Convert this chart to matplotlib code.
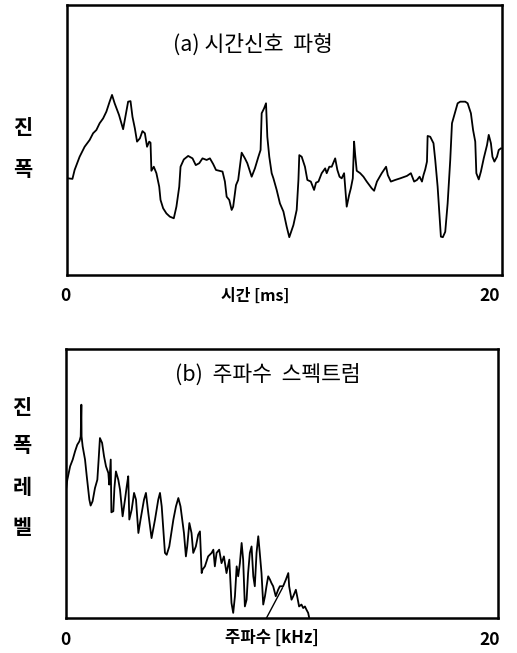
#!/usr/bin/env python3

import matplotlib
matplotlib.use("Agg")
import matplotlib.pyplot as plt

plt.rcParams['font.family'] = ['Noto Sans CJK KR', 'DejaVu Sans']

################################################################################
# Data
################################################################################

# (a) time-domain signal: time [ms] and amplitude (arbitrary units, 0..100)
time_ms = [0.05, 0.25, 0.35, 0.58, 0.81, 1.04, 1.20, 1.35, 1.50, 1.66, 1.81, 1.96,
           2.07, 2.19, 2.39, 2.58, 2.70, 2.81, 2.92, 3.01, 3.12, 3.22, 3.35, 3.47,
           3.58, 3.68, 3.78, 3.84, 3.88, 3.99, 4.11, 4.24, 4.30, 4.42, 4.57, 4.73,
           4.91, 5.03, 5.16, 5.22, 5.37, 5.57, 5.77, 5.92, 6.08, 6.23, 6.42, 6.57,
           6.72, 6.85, 7.00, 7.15, 7.26, 7.34, 7.46, 7.57, 7.64, 7.77, 7.87, 8.03,
           8.18, 8.29, 8.49, 8.64, 8.80, 8.90, 8.95, 9.06, 9.15, 9.21, 9.30, 9.41,
           9.49, 9.64, 9.79, 9.95, 10.10, 10.22, 10.41, 10.56, 10.64, 10.68, 10.79,
           10.94, 11.05, 11.21, 11.36, 11.45, 11.56, 11.71, 11.87, 11.94, 12.06,
           12.17, 12.33, 12.43, 12.53, 12.63, 12.74, 12.86, 12.97, 13.05, 13.14,
           13.20, 13.25, 13.32, 13.48, 13.63, 13.78, 14.01, 14.12, 14.25, 14.47,
           14.67, 14.75, 14.89, 15.09, 15.32, 15.63, 15.81, 15.96, 16.09, 16.21,
           16.32, 16.39, 16.47, 16.55, 16.58, 16.70, 16.85, 16.93, 17.04, 17.13,
           17.19, 17.28, 17.39, 17.50, 17.62, 17.70, 17.81, 17.96, 18.08, 18.31,
           18.42, 18.57, 18.67, 18.77, 18.82, 18.93, 19.03, 19.16, 19.31, 19.39,
           19.49, 19.56, 19.65, 19.77, 19.85, 19.95]
amplitude = [35.8, 35.6, 38.9, 43.8, 47.5, 50.0, 52.5, 53.7, 56.2, 58.0, 60.5, 64.2,
             66.7, 63.6, 59.3, 54.0, 59.3, 64.2, 64.4, 58.6, 54.3, 49.4, 50.6, 53.3,
             52.5, 47.5, 49.4, 49.0, 38.6, 40.1, 37.7, 32.7, 27.8, 24.7, 22.8, 21.6,
             21.0, 25.3, 32.7, 40.1, 42.8, 44.1, 43.2, 40.7, 41.4, 43.2, 42.6, 43.2,
             41.1, 38.9, 38.6, 38.3, 34.6, 29.0, 27.8, 24.1, 25.3, 33.3, 35.2, 45.3,
             43.2, 41.4, 36.4, 39.5, 43.8, 46.3, 59.9, 61.7, 63.6, 51.2, 43.8, 37.7,
             35.8, 31.5, 26.5, 23.5, 17.9, 14.0, 18.5, 24.1, 35.2, 44.4, 43.8,
             40.1, 35.2, 34.6, 31.5, 34.2, 34.6, 37.7, 39.5, 37.7, 40.1,
             40.1, 43.2, 38.9, 36.4, 35.8, 37.7, 25.3, 29.6, 32.1, 35.8,
             49.4, 44.4, 38.6, 37.7, 36.4, 34.6, 32.1, 31.2, 34.6, 37.7,
             40.1, 37.0, 34.6, 35.2, 35.8, 36.7, 37.7, 34.6, 35.2, 36.4,
             34.6, 37.0, 39.1, 42.0, 51.5, 51.2, 48.8, 42.6, 32.7, 21.6,
             14.2, 14.0, 16.0, 26.5, 42.6, 56.2, 59.3, 63.6, 64.2, 64.2,
             63.6, 59.9, 53.7, 49.4, 37.7, 35.4, 38.3, 43.2, 48.1, 51.9,
             48.8, 43.8, 42.0, 43.8, 46.3, 46.9]

# (b) frequency spectrum: frequency [kHz] and level (arbitrary units, 0..100)
freq_khz = [0.00, 0.06, 0.19, 0.31, 0.42, 0.52, 0.62, 0.68, 0.71, 0.72, 0.77, 0.88,
            0.96, 1.08, 1.14, 1.23, 1.34, 1.45, 1.51, 1.57, 1.67, 1.76, 1.85, 1.96,
            2.00, 2.07, 2.10, 2.19, 2.24, 2.31, 2.42, 2.50, 2.62, 2.73, 2.81, 2.88,
            2.93, 3.04, 3.15, 3.24, 3.35, 3.45, 3.61, 3.70, 3.81, 3.96, 4.12, 4.27,
            4.35, 4.43, 4.58, 4.66, 4.78, 4.97, 5.09, 5.20, 5.30, 5.46, 5.55, 5.61,
            5.71, 5.81, 5.89, 6.01, 6.12, 6.20, 6.28, 6.32, 6.43, 6.58, 6.74, 6.82,
            6.89, 6.97, 7.09, 7.20, 7.31, 7.43, 7.56, 7.66, 7.74, 7.82, 7.90, 7.97,
            8.05, 8.13, 8.20, 8.28, 8.36, 8.43, 8.51, 8.59, 8.67, 8.74, 8.82, 8.90,
            8.97, 9.05, 9.13, 9.21, 9.28, 9.36, 9.44, 9.51, 9.59, 9.71, 9.82, 9.90,
            10.05, 10.18, 10.29, 10.33, 10.44, 10.52, 10.64, 10.70, 10.79, 10.90,
            10.98, 11.06, 11.13, 11.21, 11.26]
level = [47.7, 51.4, 56.4, 58.9, 62.0, 64.4, 65.7, 67.5, 79.3, 67.5, 63.8, 58.9,
         52.7, 44.0, 41.8, 43.4, 48.3, 51.4, 58.9, 66.9, 65.1, 60.1, 56.4, 53.9,
         49.6, 58.9, 39.3, 39.7, 48.3, 54.5, 51.4, 47.7, 37.8, 44.0, 48.9, 52.7,
         36.6, 40.3, 46.5, 44.0, 31.6, 36.6, 44.0, 46.5, 39.0, 29.7, 36.6, 44.0,
         46.5, 41.5, 24.2, 23.5, 26.6, 36.6, 41.5, 44.6, 41.5, 31.6, 22.9, 26.6,
         35.3, 31.6, 24.2, 26.6, 31.0, 32.2, 16.7, 18.0, 19.2, 22.9, 24.2, 25.4,
         19.2, 24.2, 25.4, 20.4, 22.9, 16.7, 21.7, 5.6, 1.9, 8.1, 19.2, 15.5,
         20.4, 27.9, 21.7, 4.3, 6.8, 16.7, 24.2, 26.6, 15.5, 11.8, 24.2, 30.4,
         24.2, 16.7, 5.0, 8.1, 11.8, 15.5, 14.3, 13.0, 11.8, 8.1, 10.5, 11.8,
         11.8, 14.3, 16.7, 11.8, 6.8, 8.1, 10.5, 8.1, 4.3, 5.0,
         3.7, 4.3, 3.1, 1.9, 0.0]

# stray straight stroke under the spectrum tail
stroke_khz = [9.28, 10.02]
stroke_level = [0.0, 11.2]

x_tick_labels = ["0", "20"]

################################################################################
# Plotting
################################################################################

def style_box(ax, xmax):
    ax.set_xlim(0, xmax)
    ax.set_ylim(0, 100)
    ax.set_xticks([])
    ax.set_yticks([])
    for sp in ax.spines.values():
        sp.set_linewidth(1.8)
        sp.set_color("black")


def main():
    fig = plt.figure(figsize=(5.17, 6.53), dpi=100)
    fig.patch.set_facecolor("white")

    # ---- (a) time signal ----
    ax1 = fig.add_axes([0.1296, 0.5789, 0.8414, 0.4134])
    ax1.plot(time_ms, amplitude, color="black", lw=1.3)
    style_box(ax1, 20)
    ax1.text(0.428, 0.852, "(a) 시간신호  파형", transform=ax1.transAxes,
             ha="center", va="center", fontsize=15.5)

    fig.text(65 / 517, 1 - 296 / 653, x_tick_labels[0], ha="center", va="center",
             fontsize=12.5, fontweight="bold")
    fig.text(490 / 517, 1 - 296 / 653, x_tick_labels[1], ha="center", va="center",
             fontsize=12.5, fontweight="bold")
    fig.text(255 / 517, 1 - 296 / 653, "시간 [ms]", ha="center", va="center",
             fontsize=11.5, fontweight="bold")
    for ch, yy in zip("진폭", [127, 170]):
        fig.text(23 / 517, 1 - yy / 653, ch, ha="center", va="center",
                 fontsize=15, fontweight="bold")

    # ---- (b) frequency spectrum ----
    ax2 = fig.add_axes([0.1277, 0.0536, 0.8356, 0.4119])
    ax2.plot(freq_khz, level, color="black", lw=1.3)
    ax2.plot(stroke_khz, stroke_level, color="black", lw=1.0)
    style_box(ax2, 20)
    ax2.text(0.468, 0.903, "(b)  주파수  스펙트럼", transform=ax2.transAxes,
             ha="center", va="center", fontsize=15.5)

    fig.text(65 / 517, 1 - 640 / 653, x_tick_labels[0], ha="center", va="center",
             fontsize=12.5, fontweight="bold")
    fig.text(490 / 517, 1 - 640 / 653, x_tick_labels[1], ha="center", va="center",
             fontsize=12.5, fontweight="bold")
    fig.text(272 / 517, 1 - 638 / 653, "주파수 [kHz]", ha="center", va="center",
             fontsize=12, fontweight="bold")
    for ch, yy in zip("진폭레벨", [407, 445, 487, 528]):
        fig.text(22 / 517, 1 - yy / 653, ch, ha="center", va="center",
                 fontsize=15, fontweight="bold")

    fig.savefig("out.png", dpi=100)


if __name__ == "__main__":
    main()
